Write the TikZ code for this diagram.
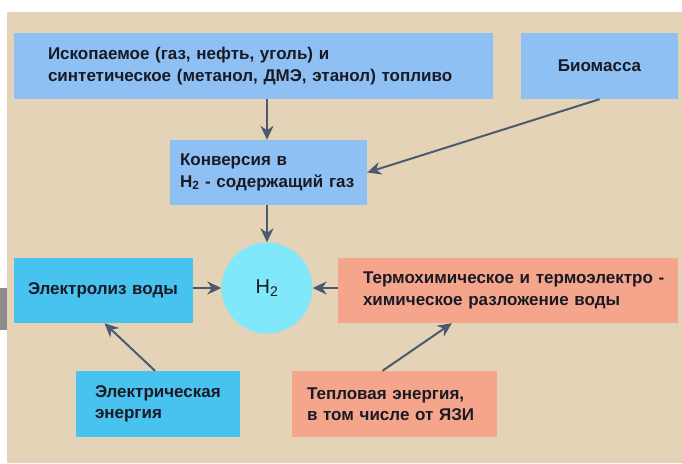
\documentclass[tikz,border=0pt]{standalone}
\usepackage{fontspec}
\setmainfont{Liberation Sans}
\usetikzlibrary{arrows.meta,calc}
\definecolor{bgc}{HTML}{E4D3B7}
\definecolor{lblue}{HTML}{8EC0F4}
\definecolor{skyc}{HTML}{48C2EE}
\definecolor{cyanc}{HTML}{80E8FA}
\definecolor{salmonc}{HTML}{F5A58C}
\definecolor{grayc}{HTML}{8C8C8C}
\definecolor{arrc}{HTML}{4B5A6E}
\definecolor{txtc}{HTML}{1A1A24}
\begin{document}
\begin{tikzpicture}[x=1pt,y=-1pt,
  box/.style={draw=none, rectangle, inner ysep=0pt, align=left,
    font=\fontsize{17}{21.5}\selectfont\bfseries, text=txtc},
  arr/.style={draw=arrc, line width=2pt, -{Stealth[length=14pt,width=13pt]}}]
\useasboundingbox (0,0) rectangle (682,463);
\fill[white] (0,0) rectangle (682,463);
\fill[bgc] (7,12) rectangle (682,463);
\fill[grayc] (0,288) rectangle (7,330);

\node[box, fill=lblue, text width=411pt, inner xsep=34pt, minimum height=66pt] (A) at (253.5,66)
  {\mbox{Ископаемое (газ, нефть, уголь) и}\\\mbox{синтетическое (метанол, ДМЭ, этанол) топливо}};
\node[box, fill=lblue, text width=137pt, inner xsep=10pt, minimum height=66pt, align=center] (B) at (599.5,66)
  {Биомасса};
\node[box, fill=lblue, text width=177pt, inner xsep=10pt, minimum height=65pt] (C) at (268.5,172.5)
  {\mbox{Конверсия в}\\\mbox{H\textsubscript{2} - содержащий газ}};
\node[circle, fill=cyanc, minimum size=91pt, inner sep=0pt, font=\fontsize{20}{22}\selectfont, text=txtc] (H) at (267,288)
  {H\textsubscript{2}};
\node[box, fill=skyc, text width=151pt, inner xsep=14pt, minimum height=65pt] (D) at (103.5,290.5)
  {\mbox{Электролиз воды}};
\node[box, fill=salmonc, text width=290pt, inner xsep=25pt, minimum height=65pt] (E) at (508,290.5)
  {\mbox{Термохимическое и термоэлектро -}\\\mbox{химическое разложение воды}};
\node[box, fill=skyc, text width=126pt, inner xsep=19pt, minimum height=66pt] (F) at (158,404)
  {\mbox{Электрическая}\\\mbox{энергия}};
\node[box, fill=salmonc, text width=175pt, inner xsep=15pt, minimum height=66pt] (G) at (394.5,404)
  {\mbox{Тепловая энергия,}\\\mbox{в том числе от ЯЗИ}};

\draw[arr] (A.south -| H) -- (C.north -| H);
\draw[arr] (B.south) -- (C.east);
\draw[arr] (C.south -| H) -- (H.north);
\draw[arr] (D.east |- H) -- (H.west);
\draw[arr] (E.west |- H) -- (H.east);
\draw[arr] ($(F.north)+(-3,0)$) -- ($(D.south)+(1,0)$);
\draw[arr] ($(G.north)+(-12,0)$) -- ($(E.south west)!0.335!(E.south east)$);
\end{tikzpicture}
\end{document}
